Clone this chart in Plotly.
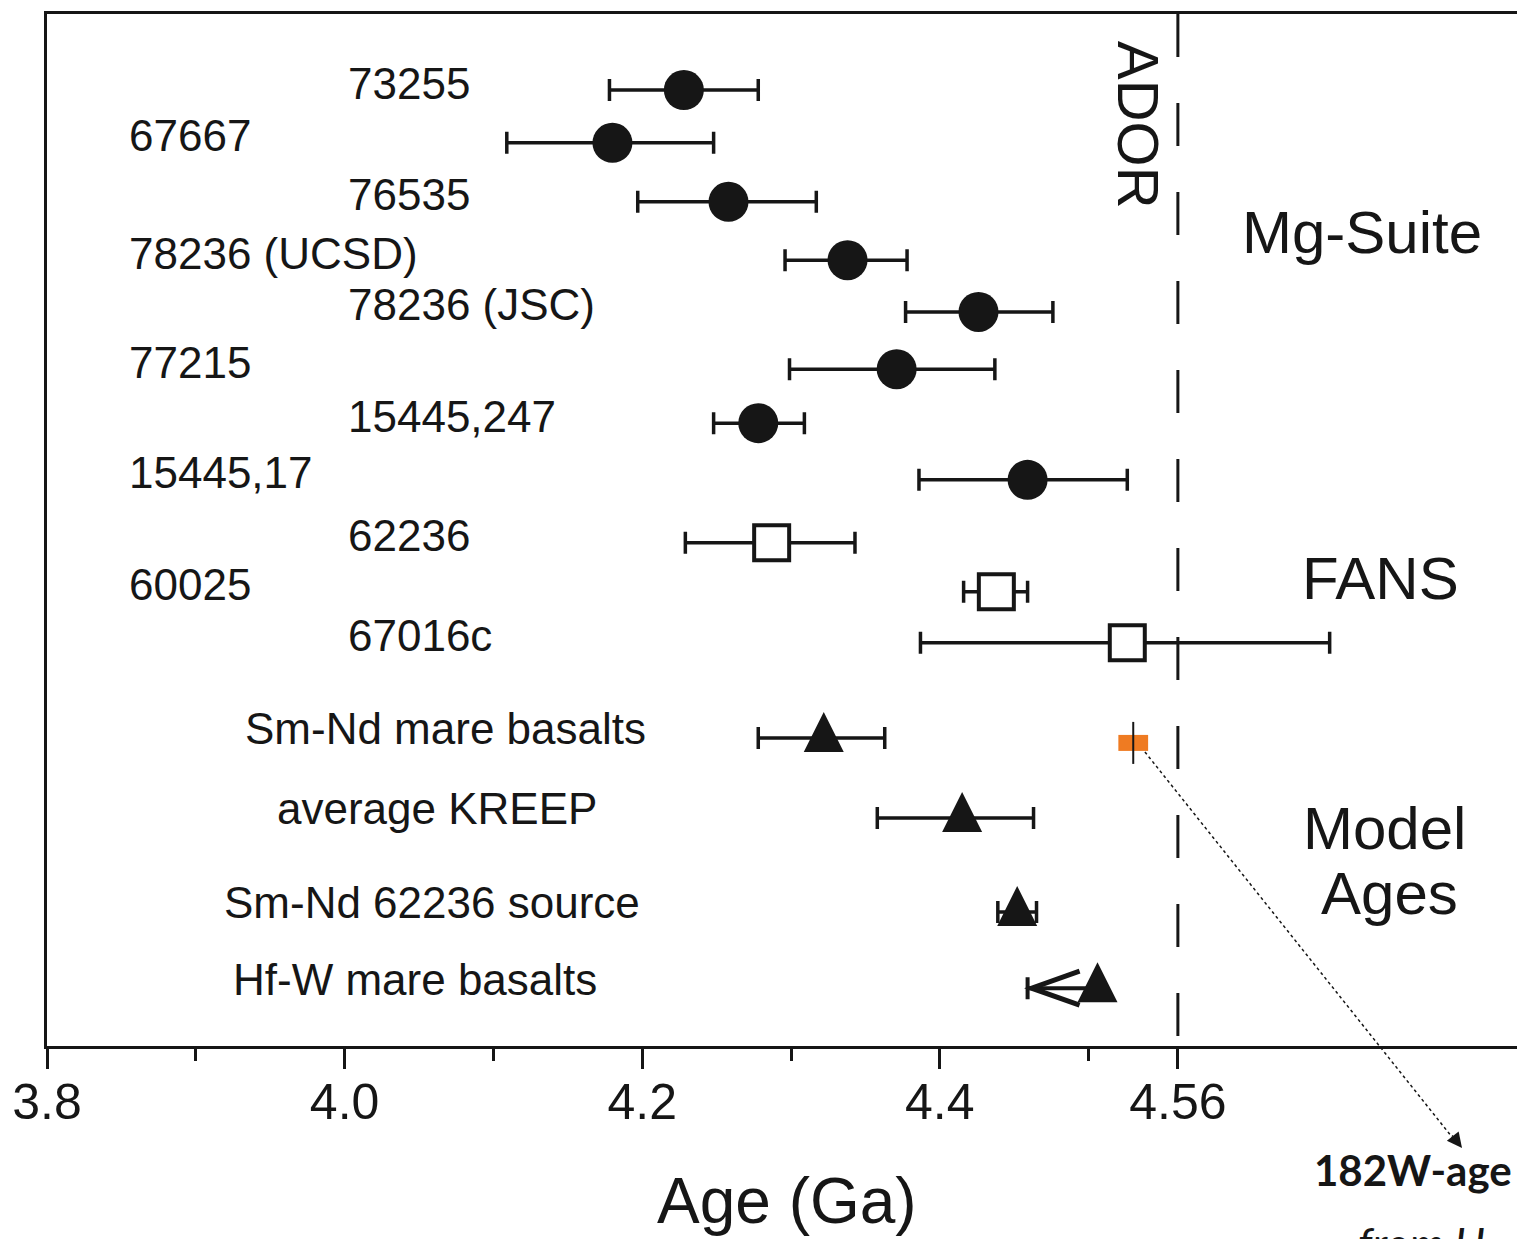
import plotly.graph_objects as go

# ---- data: crystallisation / model ages of lunar rocks (Ga) ----
mg_names = ["73255", "67667", "76535", "78236 (UCSD)", "78236 (JSC)",
            "77215", "15445,247", "15445,17"]
mg_age = [4.228, 4.180, 4.258, 4.338, 4.426, 4.371, 4.278, 4.459]
mg_err_minus = [0.050, 0.071, 0.061, 0.042, 0.049, 0.072, 0.030, 0.073]
mg_err_plus = [0.050, 0.068, 0.059, 0.040, 0.050, 0.066, 0.031, 0.067]

fan_names = ["62236", "60025", "67016c"]
fan_age = [4.287, 4.438, 4.526]
fan_err_minus = [0.058, 0.022, 0.139]
fan_err_plus = [0.056, 0.021, 0.136]

model_names = ["Sm-Nd mare basalts", "average KREEP", "Sm-Nd 62236 source"]
model_age = [4.322, 4.415, 4.452]
model_err_minus = [0.044, 0.057, 0.013]
model_err_plus = [0.041, 0.048, 0.013]

hfw_name = "Hf-W mare basalts"
hfw_age = 4.506          # lower limit, arrow points to younger ages
hfw_arrow_to = 4.459

w182_age = 4.53
w182_range = [4.52, 4.54]

ador_age = 4.56
x_tick_vals = [3.8, 4.0, 4.2, 4.4, 4.56]
x_tick_text = ["3.8", "4.0", "4.2", "4.4", "4.56"]
x_minor_vals = [3.9, 4.1, 4.3, 4.5]

# ---- layout helpers: vertical row positions and label anchors ----
mg_rows = [1.0, 1.95, 3.01, 4.06, 4.99, 6.02, 6.99, 8.01]
fan_rows = [9.14, 10.02, 10.94]
model_rows = [12.65, 14.09, 15.78]
hfw_row = 17.15
w182_row = 12.74

col_a, col_b = 3.854, 4.001
mg_label_x = [col_b, col_a, col_b, col_a, col_b, col_a, col_b, col_a]
fan_label_x = [col_b, col_a, col_b]
model_label_x = [4.068, 4.062, 4.059]
hfw_label_x = 4.047

INK = "#161616"
FONT = "Liberation Sans, Arial, Helvetica, sans-serif"

fig = go.Figure()

# Mg-suite: filled circles
fig.add_trace(go.Scatter(
    x=mg_age, y=mg_rows, mode="markers",
    marker=dict(symbol="circle", size=40, color=INK),
    error_x=dict(type="data", symmetric=False, array=mg_err_plus,
                 arrayminus=mg_err_minus, thickness=3.5, width=11, color=INK),
    showlegend=False, hoverinfo="skip"))

# FANs: open squares
fig.add_trace(go.Scatter(
    x=fan_age, y=fan_rows, mode="markers",
    marker=dict(symbol="square", size=35, color="white",
                line=dict(color=INK, width=4)),
    error_x=dict(type="data", symmetric=False, array=fan_err_plus,
                 arrayminus=fan_err_minus, thickness=3.5, width=11, color=INK),
    showlegend=False, hoverinfo="skip"))

# model ages: error bars (triangles added as shapes below)
fig.add_trace(go.Scatter(
    x=model_age, y=model_rows, mode="markers",
    marker=dict(size=1, color=INK),
    error_x=dict(type="data", symmetric=False, array=model_err_plus,
                 arrayminus=model_err_minus, thickness=3.5, width=11, color=INK),
    showlegend=False, hoverinfo="skip"))

# Hf-W: one-sided limit bar
fig.add_trace(go.Scatter(
    x=[hfw_age], y=[hfw_row], mode="markers",
    marker=dict(size=1, color=INK),
    error_x=dict(type="data", symmetric=False, array=[0],
                 arrayminus=[hfw_age - hfw_arrow_to], thickness=4, width=11, color=INK),
    showlegend=False, hoverinfo="skip"))

# 182W age tick
fig.add_trace(go.Scatter(
    x=[w182_age], y=[w182_row], mode="markers",
    marker=dict(symbol="line-ns", size=30, line=dict(color=INK, width=2)),
    showlegend=False, hoverinfo="skip"))

shapes = []
# ADOR dashed line
shapes.append(dict(type="line", xref="x", yref="paper", x0=ador_age, x1=ador_age,
                   y0=1, y1=0, layer="below",
                   line=dict(color=INK, width=3, dash="43px,46px")))
# 182W orange box
shapes.append(dict(type="rect", xref="x", yref="y", ysizemode="pixel",
                   yanchor=w182_row, x0=w182_range[0], x1=w182_range[1],
                   y0=-8, y1=8, layer="below",
                   fillcolor="#EF7B22", line=dict(width=0)))
# filled triangles for model ages
tri_path = "M-20,-14 L20,-14 L0,26 Z"
for a, r in list(zip(model_age, model_rows)) + [(hfw_age, hfw_row)]:
    shapes.append(dict(type="path", xref="x", yref="y",
                       xsizemode="pixel", ysizemode="pixel",
                       xanchor=a, yanchor=r, path=tri_path,
                       fillcolor=INK, line=dict(width=0)))
# Hf-W arrowhead (open chevron pointing to younger ages)
shapes.append(dict(type="path", xref="x", yref="y",
                   xsizemode="pixel", ysizemode="pixel",
                   xanchor=hfw_arrow_to, yanchor=hfw_row,
                   path="M52,17 L4,0 L52,-17",
                   line=dict(color=INK, width=5)))
# dotted leader from the 182W box to its caption
shapes.append(dict(type="line", xref="paper", yref="paper",
                   x0=0.7469, y0=0.2849, x1=0.9565, y1=-0.0895,
                   line=dict(color=INK, width=1.5, dash="dot")))

annotations = []
for name, xa, r in zip(mg_names + fan_names, mg_label_x + fan_label_x, mg_rows + fan_rows):
    annotations.append(dict(x=xa, y=r, xref="x", yref="y", text=name, showarrow=False,
                            xanchor="left", yanchor="middle", yshift=7,
                            font=dict(family=FONT, size=44, color=INK)))
for name, xa, r in zip(model_names + [hfw_name], model_label_x + [hfw_label_x],
                       model_rows + [hfw_row]):
    annotations.append(dict(x=xa, y=r, xref="x", yref="y", text=name, showarrow=False,
                            xanchor="center", yanchor="middle", yshift=9,
                            font=dict(family=FONT, size=44, color=INK)))

# group labels
for txt, xp, yp in [("Mg-Suite", 1362, 232), ("FANS", 1380, 578),
                    ("Model", 1384, 828), ("Ages", 1389, 893)]:
    annotations.append(dict(x=(xp - 47) / 1470, y=(1046 - yp) / 1032, xref="paper",
                            yref="paper", text=txt, showarrow=False,
                            xanchor="center", yanchor="middle",
                            font=dict(family=FONT, size=60, color=INK)))
annotations.append(dict(x=(1138 - 47) / 1470, y=(1046 - 125) / 1032, xref="paper",
                        yref="paper", text="ADOR", textangle=90, showarrow=False,
                        xanchor="center", yanchor="middle",
                        font=dict(family=FONT, size=58, color=INK)))

# axis title
annotations.append(dict(x=(787 - 47) / 1470, y=(1046 - 1201) / 1032, xref="paper",
                        yref="paper", text="Age (Ga)", showarrow=False,
                        xanchor="center", yanchor="middle",
                        font=dict(family=FONT, size=64, color=INK)))

# 182W caption and its arrowhead
annotations.append(dict(x=0.9626, y=-0.0988, xref="paper", yref="paper",
                        ax=-11, ay=-14, text="", showarrow=True, arrowhead=2,
                        arrowsize=2.5, arrowwidth=1.2, arrowcolor=INK))
annotations.append(dict(x=(1413 - 47) / 1470, y=(1046 - 1170) / 1032, xref="paper",
                        yref="paper", text="<b>182W-age</b>", showarrow=False,
                        xanchor="center", yanchor="middle",
                        font=dict(family="Lato, Open Sans, sans-serif", size=42, color=INK)))
annotations.append(dict(x=(1356 - 47) / 1470, y=(1046 - 1243) / 1032, xref="paper",
                        yref="paper", text="<i>from H</i>", showarrow=False,
                        xanchor="left", yanchor="middle",
                        font=dict(family="Lato, Open Sans, sans-serif", size=44, color=INK)))

fig.update_layout(
    width=1517, height=1239,
    margin=dict(l=47, r=0, t=14, b=193, pad=0),
    paper_bgcolor="white", plot_bgcolor="white",
    shapes=shapes, annotations=annotations,
    xaxis=dict(range=[3.8, 3.8 + 1470 / 1488], showgrid=False, zeroline=False,
               showline=True, linecolor=INK, linewidth=3, mirror=True,
               tickmode="array", tickvals=x_tick_vals, ticktext=x_tick_text,
               ticks="outside", ticklen=20, tickwidth=2.5, tickcolor=INK,
               ticklabelstandoff=-10,
               tickfont=dict(family=FONT, size=50, color=INK),
               minor=dict(tickmode="array", tickvals=x_minor_vals, ticks="outside",
                          ticklen=12, tickwidth=2.5, tickcolor=INK)),
    yaxis=dict(range=[18.19, -0.367], showgrid=False, zeroline=False,
               showline=True, linecolor=INK, linewidth=3, mirror=False,
               showticklabels=False, ticks=""),
)

fig.write_html("out.html")
